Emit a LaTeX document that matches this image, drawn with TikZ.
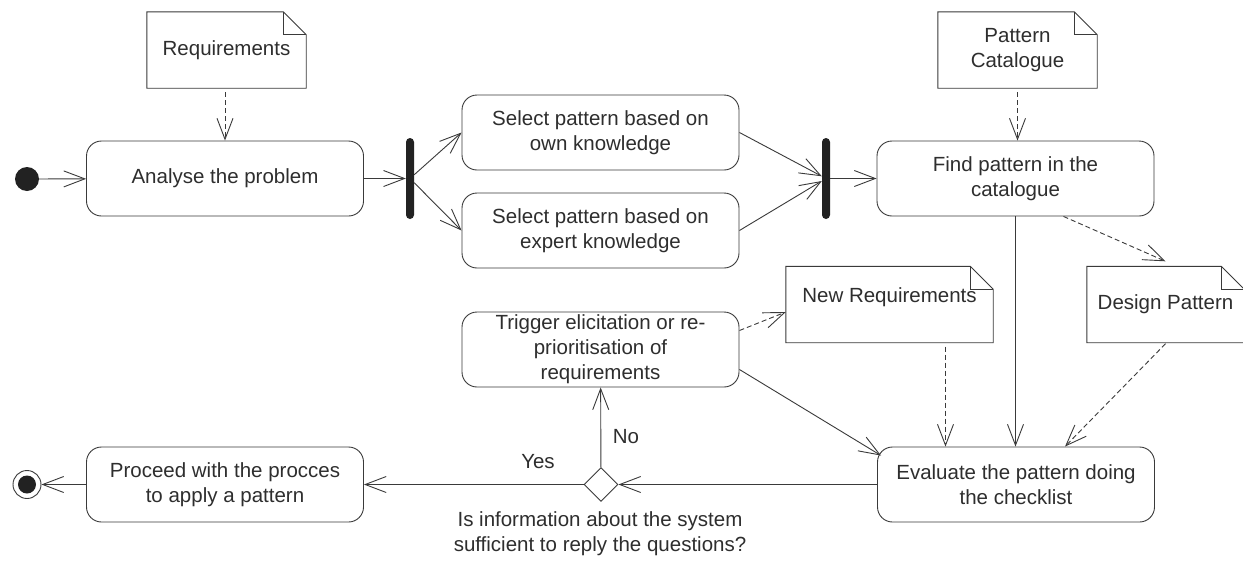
\documentclass[tikz,border=0pt]{standalone}
\usepackage{fontspec}
\setmainfont{Liberation Sans}
\usetikzlibrary{arrows.meta,shapes.geometric}
\definecolor{ln}{HTML}{3A3A3A}
\definecolor{tx}{HTML}{2E2E2E}
\definecolor{blk}{HTML}{222222}
\begin{document}
\begin{tikzpicture}[x=1pt,y=-1pt,
  every node/.style={font=\fontsize{20.5}{25}\selectfont, text=tx},
  act/.style={draw=ln, line width=0.9pt, rounded corners=15pt, minimum width=277pt, minimum height=75pt, align=center, inner sep=0pt},
  notebox/.style={minimum height=76pt, align=center, inner sep=0pt},
  bar/.style={fill=blk, rounded corners=4pt, minimum width=8pt, minimum height=81pt, inner sep=0pt},
  flow/.style={draw=ln, line width=0.9pt, -{Straight Barb[length=21pt,width=16pt,line width=0.9pt]}},
  dep/.style={flow, dash pattern=on 5pt off 3pt},
  notedraw/.style={draw=ln, line width=0.9pt}
]
\fill[white] (0,0) rectangle (1243,560);
\useasboundingbox (0,0) rectangle (1243,560);

% activities
\node[circle, fill=blk, minimum size=24pt, inner sep=0pt] (init) at (27,179) {};
\node[act] (analyse) at (225,178.5) {Analyse the problem};
\node[bar] (b1) at (410,178.5) {};
\node[act] (own) at (600.5,132.5) {Select pattern based on\\own knowledge};
\node[act] (exp) at (600.5,230.5) {Select pattern based on\\expert knowledge};
\node[bar] (b2) at (826,178.5) {};
\node[act] (find) at (1015.5,178.5) {Find pattern in the\\catalogue};
\node[act] (trig) at (600.5,349.5) {Trigger elicitation or re-\\prioritisation of\\requirements};
\node[act] (eval) at (1016,484.5) {Evaluate the pattern doing\\the checklist};
\node[act] (proc) at (225,484.5) {Proceed with the procces\\to apply a pattern};
\node[diamond, draw=ln, line width=0.9pt, minimum width=34pt, minimum height=34pt, inner sep=0pt] (dia) at (601,484.5) {};
\node[circle, draw=ln, line width=0.9pt, minimum size=28pt, inner sep=0pt] (fin) at (27,484.5) {};
\node[circle, fill=blk, minimum size=18pt, inner sep=0pt] (fincore) at (fin.center) {};

% notes
\node[notebox, minimum width=159pt] (req) at (226.5,50) {Requirements};
\node[notebox, minimum width=159pt] (cat) at (1017.5,50) {Pattern\\Catalogue};
\node[notebox, minimum width=207pt] (nreq) at (889.5,304.5) {\raisebox{7pt}[\height][\depth]{New Requirements}};
\node[notebox, minimum width=157pt] (dp) at (1165.5,304.5) {Design Pattern};
\foreach \n in {req,cat,nreq,dp}{
  \draw[notedraw] (\n.south west) -- (\n.north west) -- ([xshift=-23pt]\n.north east) -- ([yshift=-23pt]\n.north east) -- (\n.south east) -- cycle;
  \draw[notedraw] ([xshift=-23pt]\n.north east) |- ([yshift=-23pt]\n.north east);
}

% connectors
\draw[flow] (init) -- (analyse);
\draw[dep] ([yshift=-4pt]req.south -| analyse.north) -- (analyse.north);
\draw[flow] (analyse) -- (b1);
\draw[flow] (b1) -- (own.west);
\draw[flow] (b1) -- (exp.west);
\draw[flow] (own.east) -- (b2);
\draw[flow] (exp.east) -- (b2);
\draw[flow] (b2) -- (find);
\draw[dep] ([yshift=-4pt]cat.south) -- (find.north -| cat.south);
\draw[flow] (find.south) -- (find.south |- eval.north);
\draw[dep] ([xshift=48pt]find.south) -- ([yshift=5pt]dp.north);
\draw[dep] ([xshift=56pt,yshift=-4pt]nreq.south) -- ([xshift=56pt]nreq.south |- eval.north);
\draw[dep] ([yshift=-1pt]dp.south) -- ([xshift=49pt]eval.north);
\draw[dep] ([yshift=19pt]trig.east) -- ([yshift=-7.5pt]nreq.west);
\draw[flow] ([yshift=-20pt]trig.east) -- ([xshift=4pt,yshift=-9pt]eval.north west);
\draw[flow] (eval) -- (dia);
\draw[flow] (dia) -- (proc);
\draw[flow] (dia) -- (trig);
\draw[flow] (proc) -- (fin);

% labels
\node (yes) at (538,462) {Yes};
\node (no) at (626,437) {No};
\node[align=center] (q) at (600,533.5) {Is information about the system\\sufficient to reply the questions?};
\end{tikzpicture}
\end{document}
